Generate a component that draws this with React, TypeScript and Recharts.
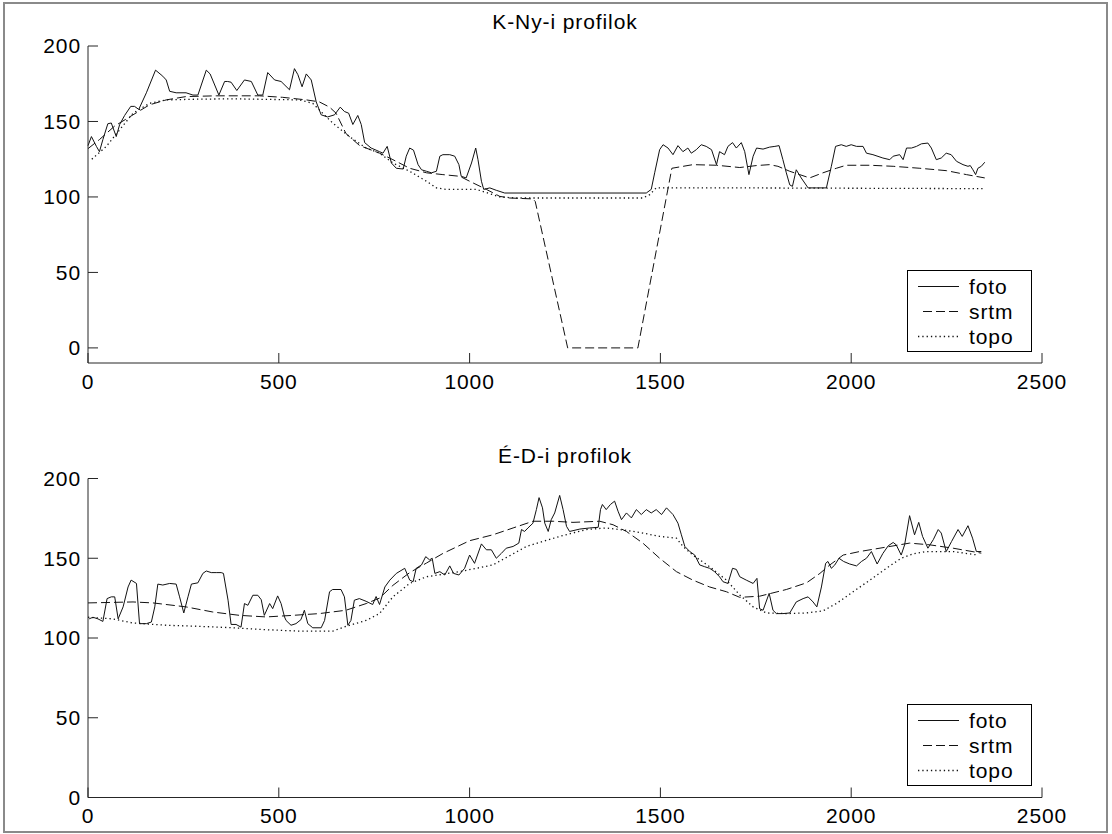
import React from 'react';
import { LineChart, Line, XAxis, YAxis, Legend } from 'recharts';

const xTicks = [0, 500, 1000, 1500, 2000, 2500];
const yTicks = [0, 50, 100, 150, 200];
const seriesNames = ['foto', 'srtm', 'topo'];
const topTitle = 'K-Ny-i profilok';
const bottomTitle = 'É-D-i profilok';

type P = [number, number];

const topFoto: P[] = [[0,134],[9,140],[22,133.5],[30,130],[39,138],[52,148.5],[61,149],[74,140],[83,148],[96,154],[112,160],[122,160],[133,158],[153,169],[177,184],[196,180],[205,177.5],[214,170],[231,169],[257,169],[275,167.5],[288,167.5],[310,184],[320,181.5],[343,167.5],[358,176.5],[366,176.5],[375,176],[390,170.5],[410,177.5],[428,176.5],[445,167.5],[458,167.5],[471,182.4],[489,177.5],[506,176.5],[528,171],[541,185],[550,181],[561,173],[572,181.5],[585,177.5],[598,163],[611,154.4],[628,153],[646,154.4],[661,159.5],[672,156.6],[683,155.5],[694,148],[707,154],[716,148],[725,136],[742,132.4],[755,131],[764,130],[773,129],[784,133.5],[795,122.5],[808,119],[826,118.5],[834,127],[843,132.4],[853,131],[865,121.4],[874,118],[887,117],[900,116],[913,117],[922,127],[930,128],[948,128],[961,127],[972,121.4],[978,113.7],[991,112.6],[1005,122.5],[1016,132.4],[1022,124.7],[1031,110.4],[1037,105],[1053,106],[1070,104.4],[1092,102.6],[1463,102.6],[1476,105],[1485,116],[1498,131.3],[1507,134.6],[1520,132.4],[1533,128],[1546,134],[1559,130],[1572,132.4],[1581,129],[1594,131.3],[1607,134.6],[1620,133.5],[1634,131.3],[1647,121.4],[1655,130],[1668,128],[1677,133.5],[1689,136],[1699,132.4],[1712,136],[1721,130],[1732,114.8],[1743,127],[1752,132.4],[1769,131.7],[1786,133],[1800,133.5],[1811,134],[1821,124.7],[1830,116],[1839,108],[1846,107],[1856,118],[1869,112.6],[1887,106],[1909,106],[1935,106],[1948,120.3],[1959,133.5],[1974,134.6],[1987,133.5],[2000,134.6],[2014,133.5],[2031,133.5],[2040,129],[2057,128],[2083,125.8],[2101,124.7],[2110,127],[2127,128],[2136,124.7],[2145,132.4],[2158,132.4],[2171,133.5],[2184,135.2],[2201,135.7],[2210,132.4],[2223,124.7],[2236,125.8],[2249,129],[2262,128],[2276,123.6],[2293,121.4],[2306,120.3],[2312,120.8],[2319,118],[2326,114.8],[2332,119],[2341,120.3],[2350,123]];

const topSrtm: P[] = [[0,132],[30,138],[70,147],[118,154.4],[161,161],[205,164.3],[257,166.5],[336,167],[449,167],[510,166],[572,164.3],[606,163],[633,159.5],[650,155.5],[676,142],[712,134],[764,129],[799,124.7],[843,119],[887,116],[930,114.8],[974,113.7],[1009,109.3],[1044,105],[1079,100.4],[1105,99.3],[1166,98.7],[1172,97],[1257,0],[1441,0],[1530,119],[1585,121.4],[1647,121],[1708,119.5],[1752,120.8],[1786,121.4],[1808,120.3],[1839,117],[1865,114.8],[1891,112.6],[1926,116],[1961,119],[1987,121],[2049,121],[2110,120.3],[2180,119],[2250,117.4],[2302,114.8],[2350,112.6]];

const topTopo: P[] = [[10,125],[48,133.5],[83,144.5],[118,155.5],[161,162],[205,164.3],[292,164.8],[380,165],[554,164.3],[589,162],[606,157.7],[641,149],[685,140],[729,132.4],[764,129],[799,122.5],[843,117],[887,110.4],[913,106],[939,105],[1018,105],[1061,101.5],[1079,100],[1123,99.3],[1454,99.3],[1472,101.5],[1489,106],[1708,106],[2350,105.5]];

const botFoto: P[] = [[3,112],[13,113],[26,112],[39,110.4],[50,124.7],[61,125.8],[70,125.8],[79,112],[92,119.5],[105,132],[113,136.3],[127,134.2],[135,109],[153,109],[166,110],[175,119.5],[183,133.8],[196,133.2],[214,134.2],[231,133.8],[240,125.8],[251,115.7],[262,125.8],[271,133.8],[288,134.6],[301,140.5],[310,142],[323,141],[336,141],[349,141],[355,140.5],[367,123.7],[375,108.5],[388,108.5],[401,106.8],[410,121.6],[419,120.5],[432,126.8],[445,126.8],[454,124],[462,114.2],[476,121.6],[484,118.4],[497,126.4],[506,121.6],[515,113.2],[519,111],[532,108],[545,109],[558,111.5],[567,117.4],[576,109],[589,106.4],[611,106.4],[620,111],[633,129],[641,130.4],[663,130.4],[672,125.8],[681,108],[689,111],[698,123.7],[711,124.7],[729,123],[746,121],[755,126],[764,121],[778,132],[791,136.3],[808,140.5],[830,143.7],[843,136.3],[852,135.3],[860,143.7],[874,145.8],[885,151],[895,149],[902,150],[909,140.5],[922,141.6],[935,139.5],[948,145.2],[958,140.5],[972,139.5],[987,143.7],[1000,152],[1013,146.8],[1031,159],[1044,155.3],[1057,155.3],[1070,150],[1083,153],[1096,156.3],[1114,157.4],[1129,159.5],[1136,168],[1144,166.8],[1153,169],[1166,172],[1175,180.5],[1182,188],[1191,181.6],[1197,172],[1206,166.8],[1214,174.2],[1223,178.4],[1236,189.4],[1245,180.5],[1254,170],[1262,166.8],[1289,168.3],[1315,169],[1337,169.4],[1343,180.5],[1348,183.7],[1358,180.5],[1369,183.7],[1380,185.8],[1389,179.5],[1398,174.2],[1411,178.4],[1424,175.3],[1437,180.5],[1450,177.4],[1463,180.5],[1476,178.4],[1489,180.5],[1503,177.4],[1516,181.6],[1533,177.4],[1546,172],[1555,164.7],[1564,157.4],[1577,154.2],[1590,152],[1603,145.8],[1616,144.7],[1629,143.7],[1642,141.6],[1655,138.4],[1664,135.3],[1677,134.2],[1689,143.7],[1699,143],[1708,138.4],[1725,136.3],[1743,134.2],[1753,137.4],[1760,118.4],[1769,117.4],[1785,128],[1795,117.4],[1804,115.3],[1821,115.3],[1839,115.7],[1856,122.6],[1874,124.7],[1887,125.8],[1900,122.6],[1910,119.5],[1922,132],[1933,146.8],[1939,148],[1948,143.7],[1957,145.8],[1968,150],[1980,148],[1996,146.4],[2014,145.2],[2027,148],[2040,150],[2053,154.2],[2068,146.4],[2083,153],[2097,157.8],[2110,159.9],[2118,158.4],[2131,152],[2140,158.4],[2153,176.7],[2166,164.7],[2177,172.5],[2187,163.7],[2201,156.3],[2215,161.6],[2228,168],[2236,165.8],[2249,154.2],[2263,160.5],[2280,168],[2291,163.7],[2306,170.4],[2318,162.6],[2328,154.2],[2341,154.2]];

const botSrtm: P[] = [[0,122],[118,122.6],[170,122],[257,119.5],[327,116.3],[397,114.2],[467,113.2],[537,114.2],[606,115.3],[676,117.4],[729,121.6],[764,125],[799,133],[843,141],[887,147],[930,153],[1000,161],[1061,164.7],[1114,169],[1166,173.2],[1219,173.2],[1271,172.5],[1341,173.2],[1376,171],[1411,166.8],[1454,159.5],[1498,150],[1542,141.6],[1585,136.3],[1629,132],[1673,129],[1708,125.5],[1760,126.2],[1795,128.3],[1830,130.4],[1883,134.6],[1918,140.5],[1944,145.8],[1979,152],[2022,154.2],[2092,157],[2153,159.5],[2206,158.4],[2267,156.3],[2341,153.2]];

const botTopo: P[] = [[0,113],[65,112],[118,109.4],[205,108],[292,107.3],[380,106.4],[467,105.2],[554,104.3],[641,104.3],[676,107.3],[729,111],[764,115.3],[799,125.8],[843,134.2],[887,138.4],[974,141.6],[1061,145.8],[1149,157.4],[1236,163.7],[1306,168],[1358,169],[1411,167.5],[1454,165.8],[1498,163.7],[1542,162.6],[1559,157.4],[1585,152],[1629,144.7],[1673,136.3],[1708,127],[1743,119.5],[1778,115.7],[1830,115.3],[1883,115.7],[1926,117],[1961,121.6],[2005,129],[2049,136.3],[2092,143.7],[2131,150],[2162,152.7],[2197,154.2],[2267,154.2],[2332,152]];

const FONT = '"Liberation Sans", Arial, Helvetica, sans-serif';
const FS = 21;
const LS = 0.9;
const AXIS = '#262626';
const LINE = '#111';
const dashes = ['', '9 4', '1.3 3'];
const tickStyle = { fill: '#000', fontSize: FS, fontFamily: FONT, letterSpacing: LS } as any;

const toPts = (arr: P[]) => arr.map(([x, y]) => ({ x, y }));

function LegendBox() {
  return (
    <div style={{ width: 125, height: 82, boxSizing: 'border-box', border: '1px solid #000', background: '#fff', position: 'relative', fontFamily: FONT }}>
      <svg width={123} height={80} style={{ position: 'absolute', left: 0, top: 0 }}>
        {seriesNames.map((n, i) => (
          <g key={n}>
            <line x1={i === 1 ? 15 : 10} x2={51} y1={15.5 + 25 * i} y2={15.5 + 25 * i} stroke={LINE} strokeWidth={i === 2 ? 1.3 : 1} strokeDasharray={dashes[i] || undefined} />
            <text x={61} y={15.5 + 25 * i + 7.5} fontSize={FS} fontFamily={FONT} letterSpacing={LS} fill="#000">{n}</text>
          </g>
        ))}
      </svg>
    </div>
  );
}

function Panel(props: { top: number; height: number; plotTop: number; xAxisH: number; yDomain: [number, number]; foto: P[]; srtm: P[]; topo: P[]; legendTop: number }) {
  const { top, height, plotTop, xAxisH, yDomain, foto, srtm, topo, legendTop } = props;
  const series = [foto, srtm, topo];
  return (
    <div style={{ position: 'absolute', left: 0, top, width: 1112, height }}>
      <LineChart width={1112} height={height} margin={{ top: plotTop, right: 70, bottom: 0, left: 0 }}>
        <XAxis xAxisId="b" type="number" dataKey="x" domain={[0, 2500]} ticks={xTicks} interval={0} tickSize={-10} tickMargin={21} height={xAxisH} stroke={AXIS} tick={tickStyle} />
        <XAxis xAxisId="t" orientation="top" type="number" dataKey="x" domain={[0, 2500]} ticks={xTicks} interval={0} tickSize={-10} height={0} stroke={AXIS} tickFormatter={() => ''} />
        <YAxis yAxisId="l" type="number" domain={yDomain} ticks={yTicks} interval={0} width={88} tickSize={-10} tickMargin={17} stroke={AXIS} tick={tickStyle} />
        <YAxis yAxisId="r" orientation="right" type="number" domain={yDomain} ticks={yTicks} interval={0} width={0} tickSize={-10} stroke={AXIS} tickFormatter={() => ''} />
        {series.map((s, i) => (
          <Line key={seriesNames[i]} name={seriesNames[i]} xAxisId="b" yAxisId="l" data={toPts(s)} dataKey="y" type="linear" stroke={LINE} strokeWidth={i === 2 ? 1.3 : 1} strokeDasharray={dashes[i] || undefined} dot={false} activeDot={false} isAnimationActive={false} />
        ))}
        <Legend layout="vertical" align="center" verticalAlign="middle" content={() => <LegendBox />} wrapperStyle={{ left: 907, top: legendTop, width: 125, height: 82 }} />
      </LineChart>
    </div>
  );
}

export default function App() {
  return (
    <div style={{ position: 'absolute', left: 0, top: 0, width: 1112, height: 834, background: '#fff', overflow: 'hidden' }}>
      <Panel top={0} height={417} plotTop={46} xAxisH={54} yDomain={[-10, 200]} foto={topFoto} srtm={topSrtm} topo={topTopo} legendTop={270} />
      <Panel top={417} height={417} plotTop={61.5} xAxisH={36.5} yDomain={[0, 200]} foto={botFoto} srtm={botSrtm} topo={botTopo} legendTop={287.3} />
      <svg width={1112} height={834} style={{ position: 'absolute', left: 0, top: 0, pointerEvents: 'none' }}>
        <text x={565} y={28.5} textAnchor="middle" fontSize={FS} fontFamily={FONT} letterSpacing={LS} fill="#000">{topTitle}</text>
        <text x={565} y={463} textAnchor="middle" fontSize={FS} fontFamily={FONT} letterSpacing={LS} fill="#000">{bottomTitle}</text>
      </svg>
      <div style={{ position: 'absolute', left: 3, top: 2, width: 1105, height: 831, boxSizing: 'border-box', border: '2px solid #8a8a8a', pointerEvents: 'none' }} />
    </div>
  );
}
